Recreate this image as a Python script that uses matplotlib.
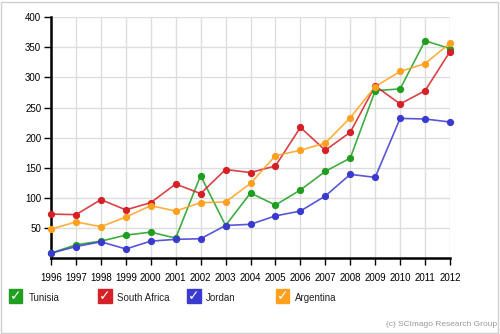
import matplotlib
matplotlib.use('Agg')
import matplotlib.pyplot as plt
from matplotlib.patches import Rectangle

plt.rcParams['font.family'] = ['Liberation Sans', 'DejaVu Sans']

years = list(range(1996, 2013))
tunisia = [8, 22, 28, 38, 43, 33, 137, 54, 108, 88, 113, 144, 166, 278, 281, 361, 348]
south_africa = [73, 72, 97, 80, 92, 123, 107, 147, 142, 153, 217, 179, 209, 286, 256, 278, 343]
jordan = [8, 19, 27, 15, 28, 31, 32, 54, 56, 70, 78, 103, 139, 134, 232, 231, 226]
argentina = [48, 60, 52, 68, 87, 78, 92, 93, 124, 170, 179, 191, 233, 285, 310, 323, 357]

names = ['Tunisia', 'South Africa', 'Jordan', 'Argentina']
series = [tunisia, south_africa, jordan, argentina]
colors = ['#1f9e1f', '#d42026', '#3a3ad0', '#ffa01e']
yticks = [50, 100, 150, 200, 250, 300, 350, 400]

W, H = 500, 334
fig = plt.figure(figsize=(5, 3.34), dpi=100)
fig.patch.set_facecolor('white')
fig.patches.append(Rectangle((1 / W, 1 / H), 1 - 3 / W, 1 - 3 / H, transform=fig.transFigure,
                             fill=False, edgecolor='#d0d0d0', linewidth=1))

ax = fig.add_axes([51 / W, 1 - 258 / H, 399 / W, (258 - 17.3) / H])
for vals, c in zip(series, colors):
    ax.plot(years, vals, color=c, linewidth=1.2, alpha=0.85, zorder=3)
    ax.plot(years, vals, 'o', color=c, markersize=4.2, zorder=4, clip_on=False)

ax.set_xlim(1996, 2012)
ax.set_ylim(0, 400)
ax.set_xticks(years)
ax.set_xticklabels([str(y) for y in years], fontsize=7)
ax.set_yticks(yticks)
ax.set_yticklabels([str(v) for v in yticks], fontsize=7)
ax.grid(True, color='#dddddd', linewidth=1)
ax.set_axisbelow(True)
for s in ['top', 'right']:
    ax.spines[s].set_visible(False)
for s in ['left', 'bottom']:
    ax.spines[s].set_linewidth(1.8)
    ax.spines[s].set_color('black')
ax.tick_params(axis='both', length=5, width=1, color='black', labelcolor='black', pad=6)
ax.tick_params(axis='y', pad=2)

# legend with check boxes
box_x = [9, 98.3, 187.3, 276]
text_x = [28.3, 117.3, 206, 295]
for name, c, bx, tx in zip(names, colors, box_x, text_x):
    fig.patches.append(Rectangle((bx / W, 1 - 302.7 / H), 13.4 / W, 13.4 / H,
                                 transform=fig.transFigure, facecolor=c, edgecolor=c))
    fig.text((bx + 6.7) / W, 1 - 296.5 / H, '\u2713', color='white', fontsize=10,
             fontweight='bold', family='DejaVu Sans', ha='center', va='center')
    fig.text(tx / W, 1 - 297.7 / H, name, fontsize=7, color='#222222', va='center', ha='left')

fig.text(497 / W, 1 - 324 / H, '(c) SCImago Research Group', fontsize=6, color='#999999',
         ha='right', va='center')

fig.savefig('out.png', dpi=100)
